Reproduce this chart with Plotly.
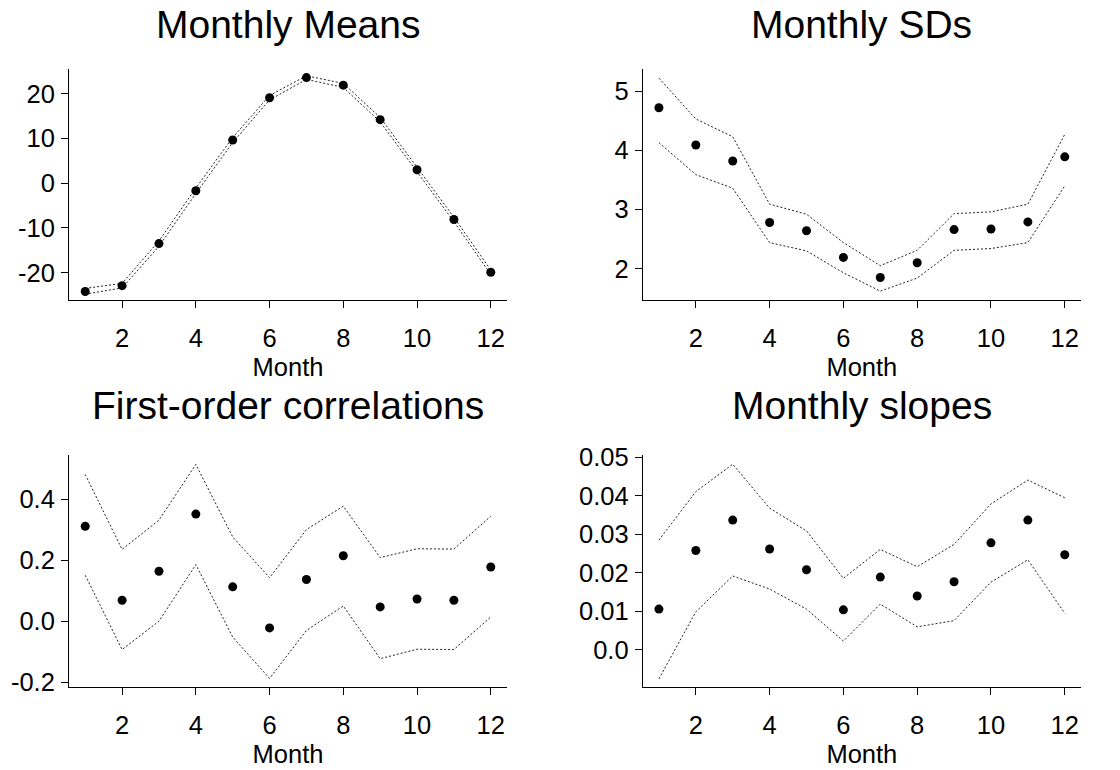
import plotly.graph_objects as go

months = list(range(1, 13))
xtick_vals = [2, 4, 6, 8, 10, 12]
xtick_text = ["2", "4", "6", "8", "10", "12"]

# Monthly means
mean_est = [-24.2, -22.9, -13.5, -1.7, 9.65, 19.1, 23.6, 21.9, 14.2, 3.0, -8.1, -19.9]
mean_hi = [-23.5, -22.4, -12.9, -1.1, 10.2, 19.6, 24.0, 22.3, 14.7, 3.5, -7.6, -19.4]
mean_lo = [-24.8, -23.4, -14.1, -2.3, 9.1, 18.6, 23.2, 21.4, 13.7, 2.5, -8.6, -20.4]
mean_ticks = [-20, -10, 0, 10, 20]
mean_ticktext = ["-20", "-10", "0", "10", "20"]

# Monthly SDs
sd_est = [4.72, 4.09, 3.82, 2.78, 2.64, 2.19, 1.85, 2.10, 2.66, 2.67, 2.79, 3.89]
sd_hi = [5.22, 4.53, 4.23, 3.09, 2.92, 2.44, 2.05, 2.31, 2.93, 2.96, 3.09, 4.27]
sd_lo = [4.13, 3.59, 3.36, 2.44, 2.30, 1.93, 1.62, 1.84, 2.31, 2.34, 2.44, 3.40]
sd_ticks = [2, 3, 4, 5]
sd_ticktext = ["2", "3", "4", "5"]

# First-order correlations
cor_est = [0.312, 0.069, 0.164, 0.352, 0.113, -0.022, 0.137, 0.215, 0.047, 0.073, 0.069, 0.178]
cor_hi = [0.482, 0.236, 0.332, 0.515, 0.277, 0.143, 0.301, 0.378, 0.209, 0.238, 0.237, 0.345]
cor_lo = [0.151, -0.093, 0.000, 0.186, -0.052, -0.188, -0.030, 0.050, -0.123, -0.092, -0.093, 0.014]
cor_ticks = [-0.2, 0.0, 0.2, 0.4]
cor_ticktext = ["-0.2", "0.0", "0.2", "0.4"]

# Monthly slopes
slope_est = [0.0106, 0.0258, 0.0337, 0.0262, 0.0208, 0.0104, 0.0189, 0.0140, 0.0177, 0.0278, 0.0337, 0.0247]
slope_hi = [0.0285, 0.0411, 0.0482, 0.0368, 0.0309, 0.0186, 0.0261, 0.0216, 0.0274, 0.0379, 0.0441, 0.0395]
slope_lo = [-0.0075, 0.0099, 0.0192, 0.0158, 0.0106, 0.0023, 0.0119, 0.0060, 0.0076, 0.0176, 0.0234, 0.0095]
slope_ticks = [0.0, 0.01, 0.02, 0.03, 0.04, 0.05]
slope_ticktext = ["0.0", "0.01", "0.02", "0.03", "0.04", "0.05"]

titles = ["Monthly Means", "Monthly SDs", "First-order correlations", "Monthly slopes"]

W, H = 1120, 770
FONT = "Liberation Sans, Arial, sans-serif"


def xd(a, b):
    return [a / W, b / W]


def yd(top, bottom):
    return [1 - bottom / H, 1 - top / H]


panels = [
    dict(est=mean_est, hi=mean_hi, lo=mean_lo, yr=[-26.1, 25.45], tv=mean_ticks, tt=mean_ticktext,
         xd=xd(69, 507), yd=yd(69.3, 300)),
    dict(est=sd_est, hi=sd_hi, lo=sd_lo, yr=[1.47, 5.37], tv=sd_ticks, tt=sd_ticktext,
         xd=xd(642.7, 1081), yd=yd(69.3, 300)),
    dict(est=cor_est, hi=cor_hi, lo=cor_lo, yr=[-0.217, 0.546], tv=cor_ticks, tt=cor_ticktext,
         xd=xd(69, 507), yd=yd(455, 687.3)),
    dict(est=slope_est, hi=slope_hi, lo=slope_lo, yr=[-0.0097, 0.0506], tv=slope_ticks, tt=slope_ticktext,
         xd=xd(642.7, 1081), yd=yd(455, 687.3)),
]
title_y = [25, 25, 405, 405]

fig = go.Figure()
layout = {}
annotations = []
for i, p in enumerate(panels):
    sfx = "" if i == 0 else str(i + 1)
    xa, ya = "x" + sfx, "y" + sfx
    for band in (p["lo"], p["hi"]):
        fig.add_trace(go.Scatter(x=months, y=band, mode="lines", xaxis=xa, yaxis=ya,
                                 line=dict(color="#222222", width=1, dash="2px,2px"),
                                 showlegend=False, hoverinfo="skip"))
    fig.add_trace(go.Scatter(x=months, y=p["est"], mode="markers", xaxis=xa, yaxis=ya,
                             marker=dict(color="black", size=9), showlegend=False))
    layout["xaxis" + sfx] = dict(
        domain=p["xd"], anchor=ya, range=[0.56, 12.44], tickmode="array",
        tickvals=xtick_vals, ticktext=xtick_text, ticks="outside", ticklen=7,
        tickcolor="black", showline=True, linecolor="black", linewidth=1,
        showgrid=False, zeroline=False, tickfont=dict(size=25.5, color="black"),
        ticklabelstandoff=8, automargin=False,
        title=dict(text="Month", font=dict(size=25.5, color="black"), standoff=7))
    layout["yaxis" + sfx] = dict(
        domain=p["yd"], anchor=xa, range=p["yr"], tickmode="array",
        tickvals=p["tv"], ticktext=p["tt"], ticks="outside", ticklen=7,
        tickcolor="black", showline=True, linecolor="black", linewidth=1,
        showgrid=False, zeroline=False, tickfont=dict(size=25.5, color="black"),
        ticklabelstandoff=1, automargin=False)
    annotations.append(dict(text=titles[i], xref="paper", yref="paper",
                            x=(p["xd"][0] + p["xd"][1]) / 2, y=1 - title_y[i] / H,
                            xanchor="center", yanchor="middle", showarrow=False,
                            font=dict(size=39, color="black")))

fig.update_layout(**layout)
fig.update_layout(width=W, height=H, margin=dict(l=0, r=0, t=0, b=0, autoexpand=False),
                  paper_bgcolor="white", plot_bgcolor="white",
                  font=dict(family=FONT, color="black"),
                  annotations=annotations, showlegend=False)
fig.write_html("out.html", config={"displayModeBar": False},
               post_script="document.body.style.margin='0';")
